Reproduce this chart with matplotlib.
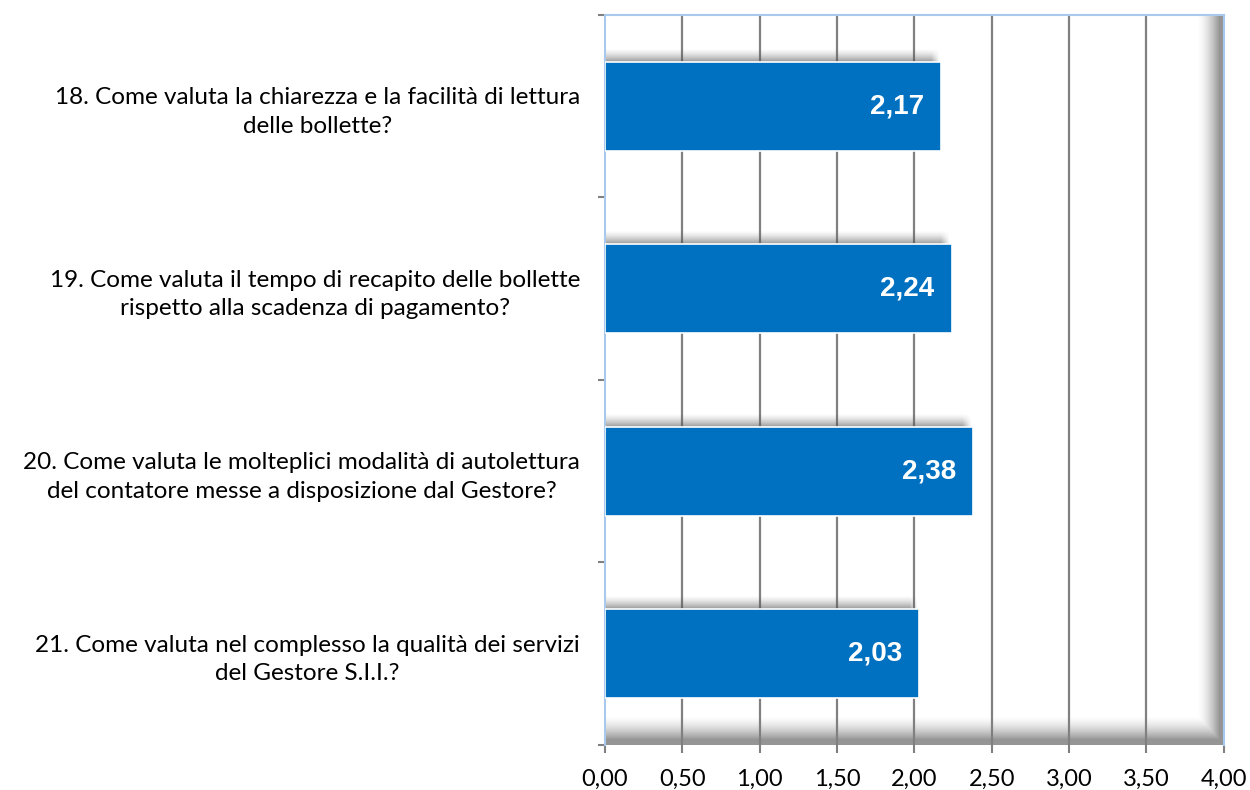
import matplotlib
matplotlib.use("Agg")
from matplotlib import pyplot as plt
import numpy as np

questions = [
    "18. Come valuta la chiarezza e la facilità di lettura\ndelle bollette?",
    "19. Come valuta il tempo di recapito delle bollette\nrispetto alla scadenza di pagamento?",
    "20. Come valuta le molteplici modalità di autolettura\ndel contatore messe a disposizione dal Gestore?",
    "21. Come valuta nel complesso la qualità dei servizi\ndel Gestore S.I.I.?",
]
scores = [2.17, 2.24, 2.38, 2.03]
xticks = [0.0, 0.5, 1.0, 1.5, 2.0, 2.5, 3.0, 3.5, 4.0]

bar_color = "#0070c0"
edge_blue = "#a9c8ee"

fig = plt.figure(figsize=(12.5, 7.9), dpi=100)
ax = fig.add_axes([0.484, 0.057, 0.495, 0.924])

pos = np.arange(len(scores))
bar_h = 0.49


def shadow_img(h, w, alpha):
    img = np.zeros((h, w, 4))
    img[..., :3] = 0.33
    img[..., 3] = alpha
    return img


# gridlines
for x in xticks[1:-1]:
    ax.axvline(x, color="#808080", lw=1.6, zorder=1)

# soft shadow on top of each bar
for y, v in zip(pos, scores):
    top = y - bar_h / 2
    sh = 0.075
    yy = np.linspace(0, 1, 40)[:, None]          # 0 = far from bar, 1 = at bar
    xx = np.linspace(0, 1, 400)[None, :]
    a = 0.6 * yy ** 1.5 * np.clip((1 - xx) / 0.025, 0, 1)
    ax.imshow(shadow_img(40, 400, a), extent=(0, v - 0.01, top, top - sh),
              origin="upper", aspect="auto", interpolation="bilinear", zorder=2)

ax.barh(pos, scores, height=bar_h, color=bar_color, edgecolor="white",
        linewidth=1.2, zorder=3)

for y, v in zip(pos, scores):
    ax.text(v - 0.11, y, f"{v:.2f}".replace(".", ","), color="white",
            fontsize=20, fontweight="bold", family="Liberation Sans",
            ha="right", va="center", zorder=4)

# blurred frame shadow along right and bottom of the plot area
W, H = 619, 730
px = np.arange(W)[None, :]
py = np.arange(H)[:, None]
ar = np.clip((px - (W - 27)) / 22.0, 0, 1) ** 1.6
ab = np.clip((py - (H - 30)) / 24.0, 0, 1) ** 1.6
frame = 0.62 * np.maximum(ar, ab)
ax.imshow(shadow_img(H, W, frame), extent=(0, 1, 0, 1), origin="upper",
          transform=ax.transAxes, aspect="auto", interpolation="bilinear",
          zorder=0.5)

ax.set_xlim(0, 4)
ax.set_ylim(len(scores) - 0.5, -0.5)

ax.set_xticks(xticks)
ax.set_xticklabels([f"{x:.2f}".replace(".", ",") for x in xticks],
                   fontsize=17, family="Lato")
ax.tick_params(axis="x", length=6, color="#808080", width=1.5, pad=11)

ax.set_yticks(pos)
ax.set_yticklabels(questions, fontsize=17.5, family="Lato", linespacing=1.45)
for t in ax.get_yticklabels():
    t.set_multialignment("center")
ax.tick_params(axis="y", which="major", length=0, pad=18)
ax.set_yticks(np.arange(len(scores) + 1) - 0.5, minor=True)
ax.tick_params(axis="y", which="minor", length=5, color="#808080", width=1.5)

for side in ["left", "top", "right"]:
    ax.spines[side].set_color(edge_blue)
    ax.spines[side].set_linewidth(1.5)
ax.spines["bottom"].set_visible(False)

fig.savefig("out.png", dpi=100)
